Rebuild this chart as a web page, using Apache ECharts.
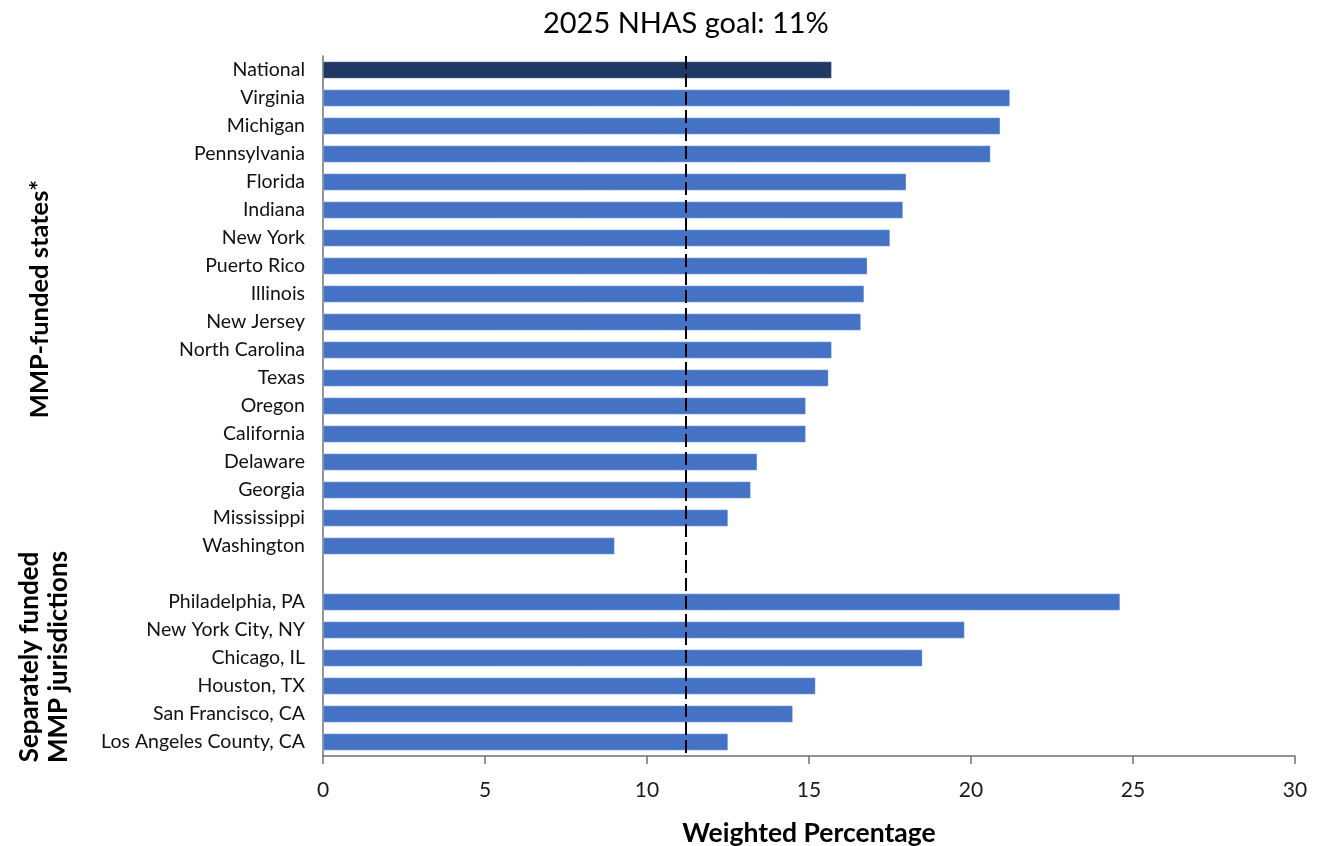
<!DOCTYPE html>
<html>
<head>
<meta charset="utf-8">
<script src="https://cdn.jsdelivr.net/npm/echarts@6/dist/echarts.min.js"></script>
<style>html,body{margin:0;padding:0;background:#fff}#c{width:1323px;height:846px}</style>
</head>
<body>
<div id="c"></div>
<script>
const categories = ['National','Virginia','Michigan','Pennsylvania','Florida','Indiana','New York','Puerto Rico','Illinois','New Jersey','North Carolina','Texas','Oregon','California','Delaware','Georgia','Mississippi','Washington','','Philadelphia, PA','New York City, NY','Chicago, IL','Houston, TX','San Francisco, CA','Los Angeles County, CA'];
const values = [15.7,21.2,20.9,20.6,18.0,17.9,17.5,16.8,16.7,16.6,15.7,15.6,14.9,14.9,13.4,13.2,12.5,9.0,null,24.6,19.8,18.5,15.2,14.5,12.5];
const goalLine = 11.2;
const goalLabel = '2025 NHAS goal: 11%';
const xTicks = [0,5,10,15,20,25,30];
const groupLabels = ['MMP-funded states*','Separately funded\nMMP jurisdictions'];
const xAxisTitle = 'Weighted Percentage';

const FONT = 'Lato, "Open Sans", sans-serif';
const chart = echarts.init(document.getElementById('c'));
const data = values.map((v,i)=>({
  value: v,
  itemStyle: { color: i === 0 ? '#203864' : '#4472C4' }
}));
chart.setOption({
  animation: false,
  textStyle: { fontFamily: FONT },
  grid: { left: 323, right: 28, top: 56, bottom: 90, containLabel: false, outerBoundsMode: 'none' },
  xAxis: {
    type: 'value',
    min: xTicks[0], max: xTicks[xTicks.length-1], interval: 5,
    splitLine: { show: false },
    axisLine: { show: true, lineStyle: { color: '#6f6f6f', width: 1.5 } },
    axisTick: { show: true, length: 8, lineStyle: { color: '#6f6f6f', width: 1.5 } },
    axisLabel: { fontSize: 21, color: '#1a1a1a', margin: 24, fontFamily: FONT },
    name: xAxisTitle, nameLocation: 'middle', nameGap: 64,
    nameTextStyle: { fontSize: 26.5, fontWeight: 'bold', color: '#000', fontFamily: FONT }
  },
  yAxis: {
    type: 'category', inverse: true, data: categories,
    axisLine: { show: true, lineStyle: { color: '#6f6f6f', width: 1.5 } },
    axisTick: { show: false },
    axisLabel: { fontSize: 19.5, color: '#111', margin: 18, fontFamily: FONT }
  },
  series: [{
    type: 'bar', data: data, barWidth: '60%',
    itemStyle: { borderColor: 'rgba(255,255,255,0.5)', borderWidth: 0.5 },
    markLine: {
      silent: true, symbol: 'none',
      lineStyle: { color: '#000', type: [13,5], width: 2 },
      label: { show: true, position: 'start', formatter: goalLabel, fontSize: 29, color: '#000', distance: 18, fontFamily: FONT },
      data: [{ xAxis: goalLine }]
    }
  }],
  graphic: [
    { type: 'text', x: 40, y: 299, rotation: Math.PI/2,
      style: { text: groupLabels[0], fill: '#000', align: 'center', verticalAlign: 'middle', font: 'bold 25.5px ' + FONT } },
    { type: 'text', x: 44, y: 657, rotation: Math.PI/2,
      style: { text: groupLabels[1], fill: '#000', align: 'center', verticalAlign: 'middle', lineHeight: 29, font: 'bold 26px ' + FONT } }
  ]
});
</script>
</body>
</html>
